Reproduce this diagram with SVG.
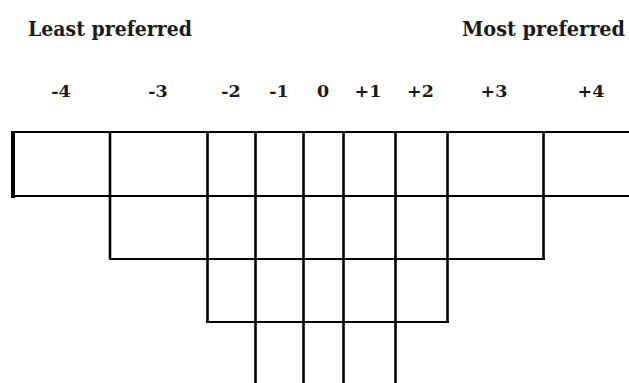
<svg xmlns="http://www.w3.org/2000/svg" width="629" height="383" viewBox="0 0 629 383">
<style>
.t{font-family:"DejaVu Serif","Liberation Serif",serif;font-weight:bold;fill:#1a1a1a}
.h{font-size:19.5px}
.n{font-size:17.5px;text-anchor:middle}
.g line{stroke:#000;stroke-width:2.6}
.g .hz{stroke-width:2.2}
</style>
<rect width="629" height="383" fill="#fff"/>
<g id="labels">
<text class="t h" x="28" y="36" textLength="164" lengthAdjust="spacingAndGlyphs">Least preferred</text>
<text class="t h" x="462" y="36" textLength="163" lengthAdjust="spacingAndGlyphs">Most preferred</text>
</g>
<g id="scale">
<text class="t n" x="61" y="97">-4</text>
<text class="t n" x="158" y="97">-3</text>
<text class="t n" x="231" y="97">-2</text>
<text class="t n" x="279" y="97">-1</text>
<text class="t n" x="323" y="97">0</text>
<text class="t n" x="368" y="97">+1</text>
<text class="t n" x="420.5" y="97">+2</text>
<text class="t n" x="494" y="97">+3</text>
<text class="t n" x="591" y="97">+4</text>
</g>
<g id="grid" class="g">
<line class="hz" x1="11" y1="132" x2="629" y2="132"/>
<line class="hz" x1="11" y1="196" x2="629" y2="196"/>
<line class="hz" x1="109" y1="259" x2="545" y2="259"/>
<line class="hz" x1="206" y1="322" x2="449" y2="322"/>
<line x1="13" y1="131" x2="13" y2="198" style="stroke-width:4"/>
<line x1="110" y1="132" x2="110" y2="259"/>
<line x1="207.5" y1="132" x2="207.5" y2="322"/>
<line x1="255.5" y1="132" x2="255.5" y2="383"/>
<line x1="303.5" y1="132" x2="303.5" y2="383"/>
<line x1="343.5" y1="132" x2="343.5" y2="383"/>
<line x1="395.5" y1="132" x2="395.5" y2="383"/>
<line x1="447.5" y1="132" x2="447.5" y2="322"/>
<line x1="543.5" y1="132" x2="543.5" y2="259"/>
</g>
</svg>
